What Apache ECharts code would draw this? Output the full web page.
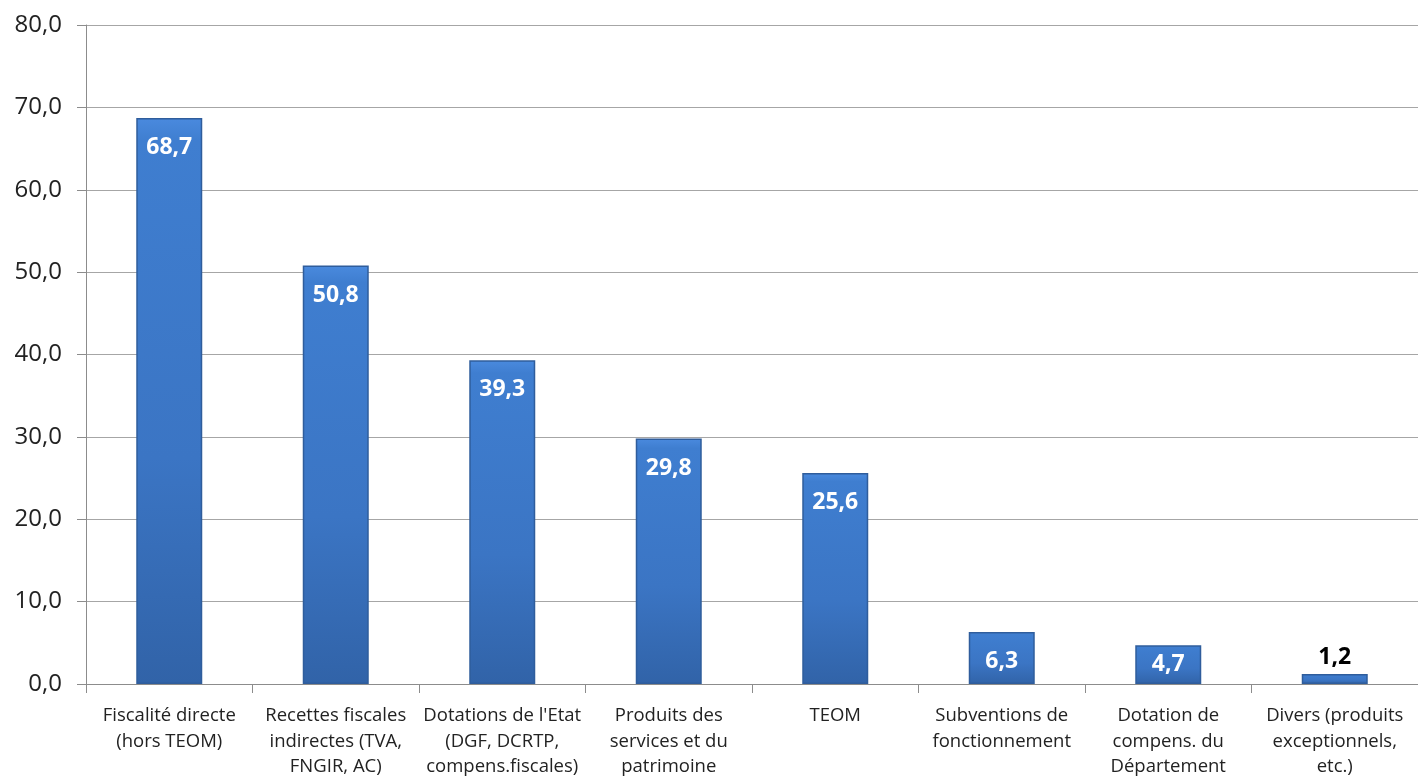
<!DOCTYPE html>
<html>
<head>
<meta charset="utf-8">
<script src="https://cdn.jsdelivr.net/npm/echarts@6/dist/echarts.min.js"></script>
<style>
  html, body { margin: 0; padding: 0; background: #fff; }
  #chart { width: 1418px; height: 776px; }
</style>
</head>
<body>
<div id="chart"></div>
<script>
const categories = [
  'Fiscalité directe\n(hors TEOM)',
  'Recettes fiscales\nindirectes (TVA,\nFNGIR, AC)',
  "Dotations de l'Etat\n(DGF, DCRTP,\ncompens.fiscales)",
  'Produits des\nservices et du\npatrimoine',
  'TEOM',
  'Subventions de\nfonctionnement',
  'Dotation de\ncompens. du\nDépartement',
  'Divers (produits\nexceptionnels,\netc.)'
]
const values = [68.7, 50.8, 39.3, 29.8, 25.6, 6.3, 4.7, 1.2]

const fmt = v => v.toFixed(1).replace('.', ',')

// bars: slightly lighter at the top, darker towards the base
const barColor = new echarts.graphic.LinearGradient(0, 0, 0, 1, [
  { offset: 0, color: '#4a8ade' },
  { offset: 0.04, color: '#3f7ed0' },
  { offset: 0.6, color: '#3b75c4' },
  { offset: 1, color: '#3163a8' }
])

const seriesData = values.map(v => {
  const item = { value: v }
  if (v < 3) {
    // too short for the label: put it above, in black
    item.label = { position: 'top', color: '#000', distance: 5 }
  } else if (v < 5) {
    item.label = { distance: 8 }
  }
  return item
})

const chart = echarts.init(document.getElementById('chart'))
chart.setOption({
  animation: false,
  grid: { left: 86, right: 0, top: 25, bottom: 92, outerBoundsMode: 'none' },
  xAxis: {
    type: 'category',
    data: categories,
    axisLine: { lineStyle: { color: '#8c8c8c', width: 1 } },
    axisTick: { show: true, length: 9, lineStyle: { color: '#8c8c8c' } },
    axisLabel: {
      color: '#222',
      fontFamily: 'Open Sans',
      fontSize: 18.5,
      lineHeight: 25.5,
      margin: 19,
      interval: 0
    }
  },
  yAxis: {
    type: 'value',
    min: 0,
    max: 80,
    interval: 10,
    axisLine: { show: true, lineStyle: { color: '#8c8c8c' } },
    axisTick: { show: true, length: 9, lineStyle: { color: '#8c8c8c' } },
    splitLine: { lineStyle: { color: '#a6a6a6' } },
    axisLabel: {
      color: '#222',
      fontFamily: 'Open Sans',
      fontSize: 24,
      margin: 24,
      formatter: fmt
    }
  },
  series: [{
    type: 'bar',
    data: seriesData,
    barWidth: 66,
    itemStyle: {
      color: barColor,
      borderColor: '#2f5d9c',
      borderWidth: 1.5
    },
    label: {
      show: true,
      position: 'insideTop',
      distance: 18,
      color: '#fff',
      fontFamily: 'Open Sans',
      fontWeight: 'bold',
      fontSize: 23,
      formatter: p => fmt(p.value)
    }
  }]
})
</script>
</body>
</html>
